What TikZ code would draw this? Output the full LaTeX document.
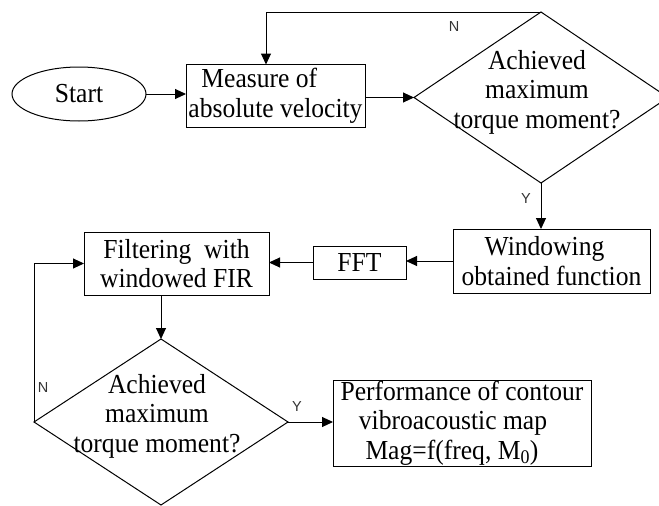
\documentclass[tikz,border=0pt]{standalone}
\usepackage{fontspec}
\setmainfont{Liberation Serif}[FakeStretch=0.93]
\newfontfamily\lblfont{Liberation Sans}
\usetikzlibrary{shapes.geometric,arrows.meta}
\begin{document}
\begin{tikzpicture}[x=1pt,y=-1pt,
  every node/.style={inner sep=0pt, outer sep=0pt},
  txt/.style={font=\fontsize{27.5}{29.5}\selectfont, align=center},
  box/.style={draw, line width=1pt, rectangle, txt},
  dia/.style={draw, line width=1pt, diamond},
  yn/.style={font=\lblfont\fontsize{14.5}{16}\selectfont, text=black!80},
  arr/.style={line width=1pt, -{Triangle[length=11pt,width=10pt]}}]
\useasboundingbox (0,0) rectangle (659,506);
\clip (0,0) rectangle (659,506);

\node[draw, line width=1pt, ellipse, minimum width=134pt, minimum height=54pt, txt] (start) at (79,94) {Start};
\node[box, minimum width=179pt, minimum height=63pt, align=left] (measure) at (275.5,96) {\hspace*{13pt}Measure of\\absolute velocity};
\node[dia, minimum width=254pt, minimum height=171pt] (dec1) at (541,97.5) {};
\node[txt] (dec1t) at (537,92) {Achieved\\maximum\\torque moment?};
\node[box, minimum width=197pt, minimum height=64pt] (win) at (551.5,261) {Windowing\kern14pt\\obtained function};
\node[box, minimum width=93pt, minimum height=33pt] (fft) at (359.5,262.5) {FFT};
\node[box, minimum width=185pt, minimum height=63pt] (filter) at (176.5,263.5) {Filtering\ \ with\\windowed FIR};
\node[dia, minimum width=254pt, minimum height=166pt] (dec2) at (161,422) {};
\node[txt] (dec2t) at (157,416) {Achieved\\maximum\\torque moment?};
\node[box, minimum width=258pt, minimum height=86pt] (perf) at (462,423) {Performance of contour\\vibroacoustic map\kern18pt\\Mag=f(freq, M\textsubscript{0})\kern20pt};

\node[yn] (n1) at (454,27) {N};
\node[yn] (y1) at (526,199) {Y};
\node[yn] (n2) at (43,388) {N};
\node[yn] (y2) at (297,407) {Y};

\draw[arr] (start.east) -- (start.east -| measure.west);
\draw[arr] (measure.east |- dec1.west) -- (dec1.west);
\draw[arr] (dec1.north) -| ([xshift=-9.5pt]measure.north);
\draw[arr] (dec1.south) -- (dec1.south |- win.north);
\draw[arr] (win.west) -- (win.west -| fft.east);
\draw[arr] (fft.west) -- (fft.west -| filter.east);
\draw[arr] (dec2.north |- filter.south) -- (dec2.north);
\draw[arr] (dec2.west) |- (filter.west);
\draw[arr] (dec2.east) -- (dec2.east -| perf.west);
\end{tikzpicture}
\end{document}
